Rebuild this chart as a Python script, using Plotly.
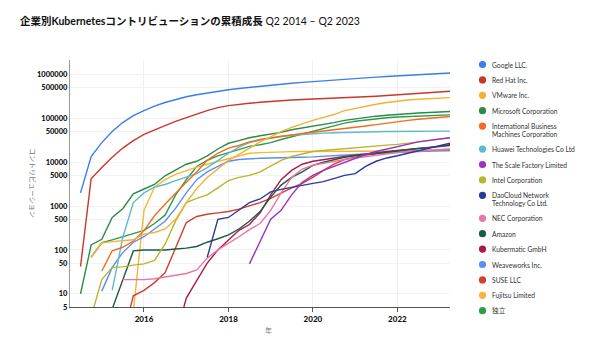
import plotly.graph_objects as go
import pandas as pd

quarters = [d.strftime("%Y-%m-%d") for d in pd.date_range("2014-04-01", periods=37, freq="QS")]

names = ["Google LLC.", "Red Hat Inc.", "VMware Inc.", "Microsoft Corporation",
         "International Business<br>Machines Corporation", "Huawei Technologies Co Ltd",
         "The Scale Factory Limited", "Intel Corporation", "DaoCloud Network<br>Technology Co Ltd.",
         "NEC Corporation", "Amazon", "Kubermatic GmbH", "Weaveworks Inc.", "SUSE LLC",
         "Fujitsu Limited", "独立"]
colors = ["#3b7ded", "#c9362b", "#f2b134", "#2c8a46", "#f26b21", "#5bbcc8", "#9b30c8", "#b9b52c",
          "#2b3a9a", "#ec74a4", "#1d5a47", "#a91a47", "#5a8ef2", "#d2412e", "#f4b738", "#2f9c4c"]

# first quarter index (0 = Q2 2014) of each series
starts = [1, 1, 2, 1, 3, 4, 17, 2, 13, 5, 4, 10, 3, 5, 6, 2]

google = [2000, 13500, 28000, 50000, 80000, 115000, 150000, 190000, 230000, 270000, 310000, 345000,
          380000, 415000, 450000, 480000, 510000, 540000, 570000, 600000, 630000, 660000, 690000,
          720000, 750000, 780000, 810000, 840000, 870000, 900000, 930000, 960000, 990000, 1020000,
          1050000, 1080000]
redhat = [42, 4200, 7600, 13000, 21000, 31000, 43000, 55000, 68000, 85000, 105000, 125000, 150000,
          175000, 195000, 210000, 220000, 232000, 244000, 255000, 262000, 268000, 274000, 279000,
          285000, 292000, 300000, 310000, 320000, 332000, 345000, 358000, 372000, 386000, 400000, 415000]
vmware = [68, 146, 155, 160, 170, 230, 250, 300, 500, 1200, 2500, 4500, 7000, 11000, 15000, 21000,
          29000, 38000, 50000, 62000, 75000, 90000, 105000, 122000, 150000, 170000, 190000, 210000,
          230000, 250000, 262000, 273000, 282000, 290000, 297000]
microsoft = [10, 130, 175, 550, 870, 1900, 2450, 3100, 4900, 6500, 9000, 10500, 14000, 20000, 27000,
             31000, 36000, 40000, 44000, 48000, 55000, 60000, 66000, 72000, 80000, 90000, 98000,
             105000, 112000, 118000, 124000, 128000, 132000, 136000, 140000, 143000]
ibm = [33, 96, 115, 160, 275, 600, 1100, 2000, 3500, 6000, 11000, 16000, 21000, 24000, 29000, 33000,
       36000, 39000, 42000, 45000, 48000, 51000, 54000, 58000, 62000, 67000, 72000, 78000, 84000,
       90000, 95000, 100000, 105000, 110000]
huawei = [12, 190, 1200, 2000, 2700, 3100, 3800, 4500, 5500, 7500, 11000, 16000, 22000, 28000, 32000,
          36000, 39000, 41000, 43000, 45000, 46000, 47000, 48000, 48500, 49000, 49500, 50000, 50000,
          50000, 50000, 50000, 50500, 51000]
scalefactory = [48, 160, 500, 800, 1800, 3500, 5000, 6500, 8000, 10000, 12500, 15000, 17500, 20000,
                23000, 26000, 29000, 31500, 34000, 36000]
intel = [3, 21, 40, 41, 45, 48, 58, 135, 460, 1200, 1500, 1800, 2600, 3800, 4500, 5000, 6000, 8000,
         11000, 13500, 15500, 17500, 18500, 19500, 20500, 21500, 22500, 23500, 24500, 25500, 27000,
         29000, 31000, 33500, 36000]
daocloud = [68, 500, 550, 800, 1200, 1450, 2100, 2400, 2700, 3000, 3300, 3600, 4200, 5000, 5500, 8000,
            10500, 12500, 14000, 16000, 18500, 21000, 24000, 27000]
nec = [21, 21, 21, 22, 24, 26, 29, 35, 65, 100, 140, 200, 290, 400, 800, 2000, 4500, 7000, 8500, 9500,
       10500, 11500, 12500, 13500, 14500, 15500, 16500, 17500, 18000, 18500, 19000, 20000]
amazon = [4.5, 20, 95, 100, 100, 100, 105, 110, 120, 150, 180, 220, 300, 450, 750, 1600, 3000, 4500,
          6000, 8500, 10000, 11500, 13000, 14000, 15000, 16000, 17000, 18500, 19500, 20500, 21500,
          23000, 25000]
kubermatic = [1, 8, 20, 50, 100, 170, 280, 380, 700, 1800, 4000, 6500, 9000, 10500, 11500, 12500,
              13500, 14500, 15500, 16500, 17500, 18500, 19500, 20500, 21500, 22500, 24000]
weaveworks = [11.5, 40, 87, 150, 200, 300, 450, 900, 2000, 4000, 6000, 8000, 10500, 11500, 12000,
              12300, 12500, 12800, 13000, 13000, 13200, 13500, 14000, 14500, 15000, 15500, 16000,
              16500, 17000, 17300, 17600, 18000, 18300, 18600]
suse = [1, 9, 12, 18, 30, 110, 420, 580, 650, 700, 750, 850, 1000, 1200, 1500, 2000, 2600, 3300, 4500,
        6500, 9000, 11500, 13000, 14500, 15500, 16500, 17000, 17500, 18000, 18500, 19000, 19500]
fujitsu = [4, 800, 2700, 4000, 5300, 6500, 7700, 9000, 10500, 12000, 14000, 16000, 16500, 17000,
           17200, 17400, 17500, 17600, 17600, 17700, 17700, 17800, 17800, 17800, 17900, 17900, 17900,
           18000, 18000, 18000, 18000]
independent = [68, 146, 170, 200, 230, 280, 400, 620, 1800, 4000, 8000, 11000, 14000, 16500, 19000,
               23000, 25000, 28000, 33000, 38000, 44000, 50000, 58000, 68000, 78000, 86000, 92000,
               98000, 103000, 107000, 110000, 113000, 116000, 118000, 120000]

series = [google, redhat, vmware, microsoft, ibm, huawei, scalefactory, intel, daocloud, nec, amazon,
          kubermatic, weaveworks, suse, fujitsu, independent]

ytickvals = [5, 10, 50, 100, 500, 1000, 5000, 10000, 50000, 100000, 500000, 1000000]
yticktext = [str(v) for v in ytickvals]
xtickvals = ["2016-01-01", "2018-01-01", "2020-01-01", "2022-01-01"]
xticktext = ["2016", "2018", "2020", "2022"]

# plot-area geometry in pixels (for placing the hand-made legend)
PL, PR, PT, PB = 70, 450, 60, 307
def px(x):
    return (x - PL) / (PR - PL)
def py(y):
    return (PB - y) / (PB - PT)

fig = go.Figure()
for name, col, st, vals in reversed(list(zip(names, colors, starts, series))):
    fig.add_trace(go.Scatter(x=quarters[st:st + len(vals)], y=vals, mode="lines",
                             line=dict(color=col, width=1.4), name=name.replace("<br>", " "),
                             showlegend=False, hoverinfo="skip"))

font_fam = "Lato, 'Noto Sans CJK JP', sans-serif"

# legend: circle + text, laid out like the reference
leg_y = 64.5
r = 3.6
for name, col in zip(names, colors):
    fig.add_shape(type="circle", xref="paper", yref="paper",
                  x0=px(482.5 - r), x1=px(482.5 + r), y0=py(leg_y + r), y1=py(leg_y - r),
                  fillcolor=col, line=dict(width=0))
    lines = name.split("<br>")
    for i, ln in enumerate(lines):
        fig.add_annotation(text=ln, xref="paper", yref="paper", x=px(490), y=py(leg_y + 7.6 * i),
                           xanchor="left", yanchor="middle", showarrow=False,
                           font=dict(size=6.7, color="#333", family=font_fam))
    leg_y += 15.4 if len(lines) == 1 else 23.0

fig.update_layout(
    width=600, height=353,
    margin=dict(l=PL, r=600 - PR, t=PT, b=353 - PB),
    paper_bgcolor="white", plot_bgcolor="white",
    font=dict(family=font_fam, size=8, color="#222"),
    title=dict(text="<b>企業別Kubernetesコントリビューションの累積成長</b> Q2 2014 – Q2 2023",
               x=20 / 600, xanchor="left", y=1 - 21 / 353, yanchor="middle",
               font=dict(size=10.5, color="#111", family=font_fam)),
    showlegend=False,
)
fig.update_xaxes(type="date", range=["2014-04-01", "2023-04-01"],
                 tickvals=xtickvals, ticktext=xticktext,
                 tickfont=dict(size=8, color="#111", family="Lato Black, Lato, sans-serif"),
                 showline=True, linecolor="#555", linewidth=1.2,
                 ticks="outside", ticklen=4, tickcolor="#555",
                 showgrid=True, gridcolor="#f0f0f0", zeroline=False)
fig.update_yaxes(type="log", range=[0.699, 6.33],
                 tickvals=ytickvals, ticktext=yticktext,
                 tickfont=dict(size=7.5, color="#111", family="Lato Black, Lato, sans-serif"),
                 showline=True, linecolor="#999", linewidth=1.2, ticks="",
                 showgrid=True, gridcolor="#f2f2f2", zeroline=False)
fig.add_annotation(text="コントリビューション", textangle=90, xref="paper", yref="paper",
                   x=px(33), y=py(183), showarrow=False, xanchor="center", yanchor="middle",
                   font=dict(size=7, color="#777", family=font_fam))
fig.add_annotation(text="年", xref="paper", yref="paper", x=px(268), y=py(330),
                   showarrow=False, yanchor="middle", xanchor="center",
                   font=dict(size=7, color="#777", family=font_fam))

fig.write_html("out.html")
